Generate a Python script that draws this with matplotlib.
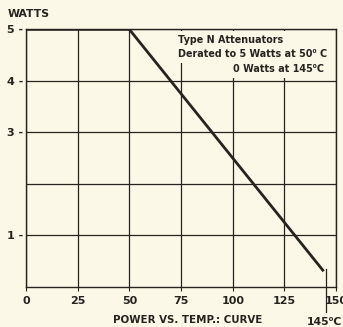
import matplotlib.pyplot as plt

# derating curve for the attenuators
temp_c = [0, 50, 144]
watts = [5, 5, 0.3]

x_ticks = [0, 25, 50, 75, 100, 125, 150]
y_ticks = [1, 2, 3, 4, 5]
y_tick_labels = ['1 -', '', '3 -', '4 -', '5 -']

paper = '#fbf8e7'
ink = '#262320'

plt.rcParams['font.family'] = ['DejaVu Sans']
plt.rcParams['font.weight'] = 'bold'

fig = plt.figure(figsize=(3.43, 3.27), dpi=100, facecolor=paper)
ax = fig.add_axes([0.0758, 0.1232, 0.904, 0.787])
ax.set_facecolor(paper)

ax.set_xlim(0, 150)
ax.set_ylim(0, 5)
ax.set_xticks(x_ticks)
ax.set_yticks(y_ticks)
ax.set_yticklabels(y_tick_labels)
ax.tick_params(axis='y', length=0, pad=2, labelsize=8, colors=ink)
ax.tick_params(axis='x', length=3, width=0.8, pad=4, labelsize=8, colors=ink)
ax.grid(True, color=ink, linewidth=0.9)
for s in ax.spines.values():
    s.set_color(ink)
    s.set_linewidth(1.0)

ax.plot(temp_c, watts, color=ink, linewidth=2.0, solid_capstyle='butt', zorder=4)

# 145 C marker dropping below the axis
ax.plot([145, 145], [watts[-1] + 0.05, -0.49], color=ink, linewidth=0.9, clip_on=False, zorder=4)

box = dict(facecolor=paper, edgecolor='none', pad=2.6)
ax.text(73.5, 4.8, 'Type N Attenuators', fontsize=6.9, color=ink, ha='left', va='center', bbox=box, zorder=3)
ax.text(73.5, 4.52, 'Derated to 5 Watts at 50⁰ C', fontsize=6.9, color=ink, ha='left', va='center', bbox=box, zorder=3)
ax.text(144, 4.23, '0 Watts at 145⁰C', fontsize=6.9, color=ink, ha='right', va='center', bbox=box, zorder=3)

fig.text(0.023, 0.957, 'WATTS', fontsize=7.8, color=ink, ha='left', va='center')
fig.text(0.548, 0.022, 'POWER VS. TEMP.: CURVE', fontsize=7.4, color=ink, ha='center', va='center')
fig.text(0.997, 0.015, '145⁰C', fontsize=7.8, color=ink, ha='right', va='center')

fig.savefig('out.png', dpi=100, facecolor=paper)
